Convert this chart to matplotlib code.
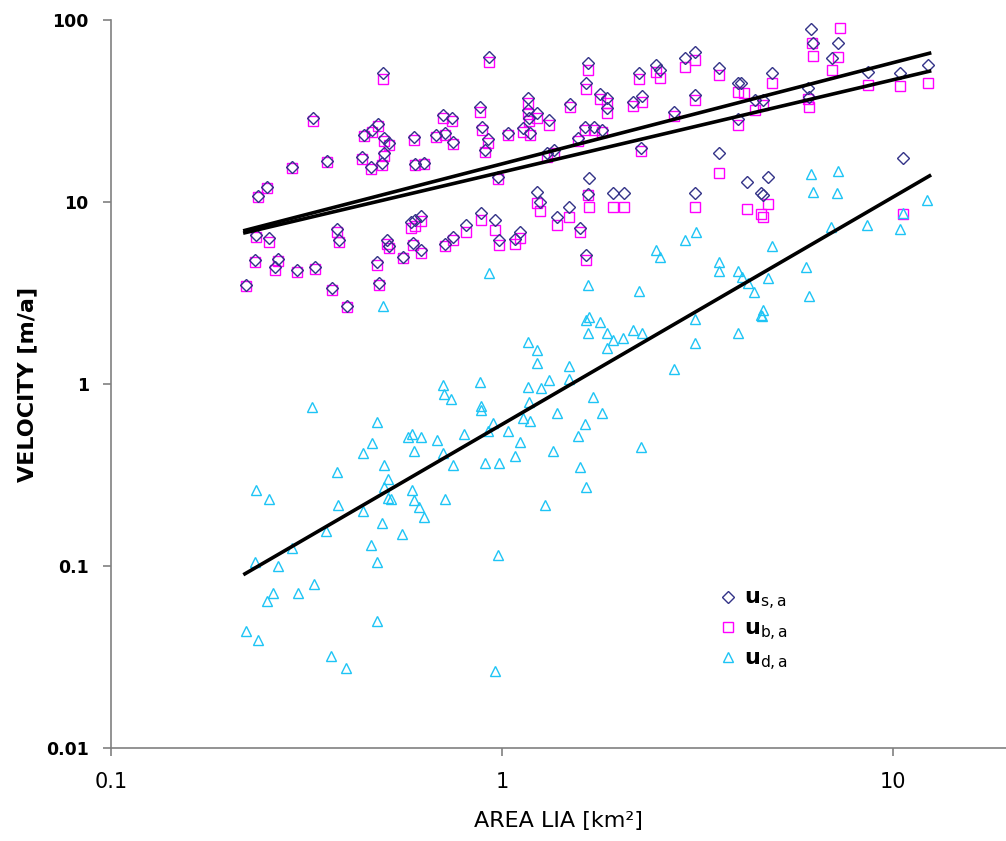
import matplotlib
matplotlib.use("Agg")
import matplotlib.pyplot as plt
from matplotlib.ticker import FixedLocator, NullLocator
import numpy as np

# surface velocity u_s,a  (area in km2, velocity in m/a)
us_area = [0.496, 0.329, 0.290, 0.356, 0.251, 0.238, 0.235, 0.254, 0.234, 0.267,
           0.262, 0.222, 0.299, 0.333, 0.367, 0.401, 0.379, 0.383, 0.484, 0.479,
           0.508, 0.515, 0.559, 0.592, 0.621, 0.586, 0.600, 0.621, 0.714, 0.750,
           0.444, 0.465, 0.481, 0.499, 0.513, 0.500, 0.438, 0.463, 0.493, 0.596,
           0.599, 0.632, 0.678, 0.714, 0.750, 0.706, 0.745,
           0.927, 0.880, 0.890, 0.920, 0.905, 0.977, 1.036, 1.13, 1.166, 1.166,
           1.17, 1.18, 1.229, 1.318, 1.493, 1.564, 1.63, 1.72, 1.80, 1.66,
           1.64, 1.78, 1.856, 1.86, 2.16, 2.28, 2.24, 2.48, 2.54, 2.27,
           2.75, 2.94, 3.12, 3.12, 1.30, 1.36, 0.809, 0.884, 0.959, 0.98,
           1.08, 1.11, 1.229, 1.25, 1.383, 1.484, 1.58, 1.64, 1.67, 1.66,
           1.92, 2.05, 3.12,
           6.17, 6.25, 7.25, 6.98, 3.59, 4.01, 4.08, 4.44, 4.65, 4.01,
           4.9, 6.06, 6.1, 8.63, 10.4, 12.3, 3.59, 4.23, 4.79, 4.6,
           4.65, 10.6]
us_vel = [51.2, 28.9, 15.6, 16.8, 12.1, 10.8, 6.6, 6.34, 4.8, 4.85,
          4.4, 3.5, 4.23, 4.4, 3.37, 2.68, 7.1, 6.19, 3.59, 4.68,
          6.2, 5.75, 4.99, 5.98, 5.45, 7.76, 8.0, 8.38, 5.9, 6.4,
          23.3, 24.9, 26.8, 22.5, 21.1, 18.6, 17.6, 15.6, 16.4, 22.7,
          16.2, 16.4, 23.3, 23.9, 21.4, 30.1, 28.9,
          62.6, 33.3, 25.8, 22.2, 19.3, 13.7, 23.9, 25.5, 37.3, 32.0,
          28.9, 23.9, 30.8, 28.2, 34.5, 22.5, 25.8, 25.8, 24.9, 58.0,
          45.1, 39.2, 37.3, 32.9, 35.4, 38.2, 51.2, 56.6, 53.1, 19.8,
          31.2, 61.7, 66.7, 38.7, 18.6, 19.3, 7.47, 8.7, 8.0, 6.19,
          6.27, 6.84, 11.4, 10.0, 8.28, 9.39, 7.2, 5.12, 13.5, 11.1,
          11.2, 11.2, 11.2,
          89.2, 74.8, 74.8, 61.7, 54.5, 45.1, 45.1, 36.3, 36.3, 28.6,
          51.2, 42.3, 37.7, 51.8, 51.2, 56.6, 18.6, 12.9, 13.7, 11.2,
          10.9, 17.5]

# basal velocity u_b,a
ub_area = [0.496, 0.329, 0.290, 0.356, 0.251, 0.238, 0.235, 0.254, 0.234, 0.267,
           0.262, 0.222, 0.299, 0.333, 0.367, 0.401, 0.379, 0.383, 0.484, 0.479,
           0.508, 0.515, 0.559, 0.592, 0.621, 0.586, 0.600, 0.621, 0.714, 0.750,
           0.444, 0.465, 0.481, 0.499, 0.513, 0.500, 0.438, 0.463, 0.493, 0.596,
           0.599, 0.632, 0.678, 0.714, 0.750, 0.706, 0.745,
           0.927, 0.880, 0.890, 0.920, 0.905, 0.977, 1.036, 1.13, 1.166, 1.166,
           1.17, 1.18, 1.229, 1.318, 1.493, 1.564, 1.63, 1.72, 1.80, 1.66,
           1.64, 1.78, 1.856, 1.86, 2.16, 2.28, 2.24, 2.48, 2.54, 2.27,
           2.75, 2.94, 3.12, 3.12, 1.30, 1.36, 0.809, 0.884, 0.959, 0.98,
           1.08, 1.11, 1.229, 1.25, 1.383, 1.484, 1.58, 1.64, 1.67, 1.66,
           1.92, 2.05, 3.12,
           6.2, 6.25, 7.3, 7.25, 6.98, 3.59, 4.01, 4.15, 4.44, 4.65, 4.01,
           4.9, 6.06, 6.1, 8.63, 10.4, 12.3, 3.59, 4.23, 4.79, 4.6,
           4.65, 10.6]
ub_vel = [47.4, 27.9, 15.3, 16.5, 11.9, 10.6, 6.45, 6.0, 4.7, 4.75,
          4.23, 3.45, 4.15, 4.3, 3.3, 2.65, 6.8, 6.0, 3.5, 4.5,
          5.9, 5.6, 4.9, 5.8, 5.25, 7.2, 7.4, 7.9, 5.7, 6.2,
          23.0, 24.3, 26.0, 21.6, 20.5, 18.0, 17.3, 15.2, 16.0, 22.0,
          15.9, 16.1, 22.8, 23.3, 20.8, 29.0, 28.0,
          58.8, 31.2, 25.0, 21.0, 18.8, 13.3, 23.3, 24.3, 35.0, 30.4,
          27.7, 23.3, 29.0, 26.5, 33.3, 21.6, 25.0, 25.0, 24.3, 53.1,
          41.8, 36.8, 35.0, 30.8, 33.7, 35.4, 47.4, 51.8, 48.0, 19.0,
          29.8, 55.2, 60.2, 36.3, 17.6, 18.6, 6.84, 7.96, 7.02, 5.8,
          5.9, 6.34, 9.87, 8.9, 7.47, 8.28, 6.8, 4.8, 9.4, 10.9,
          9.4, 9.4, 9.4,
          74.8, 63.4, 90.4, 62.6, 53.1, 49.9, 40.2, 39.6, 32.0, 34.1, 26.5,
          45.1, 36.8, 33.3, 44.0, 43.4, 45.1, 14.4, 9.15, 9.75, 8.6,
          8.28, 8.6]

# deformation velocity u_d,a
ud_area = [0.496, 0.706, 0.71, 0.74, 0.327, 0.48, 0.465, 0.44, 0.59, 0.575,
           0.62, 0.68, 0.595, 0.706, 0.75, 0.379, 0.5, 0.51, 0.5, 0.51,
           0.52, 0.59, 0.595, 0.615, 0.63, 0.714, 0.235, 0.254, 0.38, 0.44,
           0.493, 0.354, 0.555, 0.463, 0.48, 0.29, 0.234, 0.267, 0.33, 0.26,
           0.25, 0.3, 0.48, 0.222, 0.238, 0.365, 0.4,
           1.67, 1.64, 1.78, 1.66, 1.86, 1.92, 1.86, 2.04, 2.16, 2.28,
           3.12, 3.12, 2.75, 1.166, 1.229, 1.229, 1.48, 1.48, 1.32, 1.26,
           1.166, 0.88, 0.884, 0.884, 1.17, 1.71, 1.8, 1.38, 1.13, 1.18,
           0.95, 0.92, 0.8, 1.036, 1.63, 1.56, 1.11, 1.35, 2.27, 0.905,
           0.98, 1.08, 1.58, 1.64, 1.29, 0.977, 0.96,
           0.927, 1.66, 2.24, 2.94, 3.14, 2.47, 2.54, 6.17, 7.23, 6.25,
           7.2, 12.2, 10.6, 8.6, 10.4, 6.95, 4.9, 6.0, 6.08, 3.59,
           3.59, 4.01, 4.12, 4.25, 4.79, 4.4, 4.65, 4.6, 4.63, 4.01]
ud_vel = [2.68, 0.987, 0.88, 0.83, 0.75, 0.62, 0.475, 0.42, 0.53, 0.51,
          0.51, 0.49, 0.43, 0.42, 0.36, 0.33, 0.36, 0.30, 0.27, 0.235,
          0.232, 0.26, 0.23, 0.21, 0.185, 0.232, 0.262, 0.232, 0.215, 0.2,
          0.172, 0.155, 0.15, 0.13, 0.105, 0.125, 0.105, 0.1, 0.08, 0.0715,
          0.064, 0.0715, 0.05, 0.044, 0.039, 0.032, 0.0275,
          2.33, 2.25, 2.2, 1.91, 1.91, 1.75, 1.58, 1.79, 1.98, 1.91,
          2.28, 1.68, 1.21, 1.71, 1.54, 1.30, 1.25, 1.07, 1.05, 0.95,
          0.963, 1.03, 0.76, 0.72, 0.80, 0.85, 0.69, 0.69, 0.65, 0.63,
          0.61, 0.55, 0.53, 0.55, 0.60, 0.52, 0.48, 0.43, 0.45, 0.37,
          0.37, 0.40, 0.35, 0.27, 0.215, 0.115, 0.0265,
          4.07, 3.5, 3.25, 6.19, 6.84, 5.45, 4.99, 14.3, 14.8, 11.4,
          11.2, 10.3, 8.7, 7.47, 7.1, 7.3, 5.7, 4.4, 3.04, 4.68,
          4.2, 4.2, 3.85, 3.6, 3.82, 3.2, 2.55, 2.4, 2.35, 1.91]

# power-law fits  u = a * A^b
fit_names = ["us", "ub", "ud"]
fit_a = [16.2, 14.6, 0.60]
fit_b = [0.556, 0.507, 1.249]
fit_range = (0.22, 12.4)

narrow = ['Liberation Sans Narrow', 'DejaVu Sans']
plt.rcParams['font.family'] = ['DejaVu Sans']

fig = plt.figure(figsize=(10.06, 8.41), dpi=100)
ax = fig.add_axes([111/1006, 93/841, 895/1006, 728/841])

ax.set_xscale('log')
ax.set_yscale('log')
ax.set_xlim(0.1, 19.45)
ax.set_ylim(0.01, 100)

mw = 1.0
ax.plot(ub_area, ub_vel, 's', ms=7.8, mfc='none', mec='#ff00ff', mew=mw,
        label=r'$\mathbf{u}_{\mathregular{b,a}}$', zorder=3)
ax.plot(us_area, us_vel, 'D', ms=5.8, mfc='none', mec='#333388', mew=mw,
        label=r'$\mathbf{u}_{\mathregular{s,a}}$', zorder=4)
ax.plot(ud_area, ud_vel, '^', ms=7.5, mfc='none', mec='#1ec4f5', mew=mw,
        label=r'$\mathbf{u}_{\mathregular{d,a}}$', zorder=4)

xf = np.geomspace(fit_range[0], fit_range[1], 50)
for a, b in zip(fit_a, fit_b):
    ax.plot(xf, a * xf ** b, color='black', lw=2.6, zorder=5)

for s in ['top', 'right']:
    ax.spines[s].set_visible(False)
for s in ['left', 'bottom']:
    ax.spines[s].set_color('#808080')
    ax.spines[s].set_linewidth(1.2)

ax.xaxis.set_major_locator(FixedLocator([0.1, 1, 10]))
ax.xaxis.set_minor_locator(NullLocator())
ax.set_xticklabels(['0.1', '1', '10'], fontdict={'family': narrow, 'size': 15})
ax.yaxis.set_major_locator(FixedLocator([0.01, 0.1, 1, 10, 100]))
ax.yaxis.set_minor_locator(NullLocator())
ax.set_yticklabels(['0.01', '0.1', '1', '10', '100'],
                   fontdict={'size': 12.5, 'weight': 'bold'})
ax.tick_params(axis='both', direction='out', length=6, width=1.2, color='#808080')
ax.tick_params(axis='x', pad=11)
ax.tick_params(axis='y', pad=10)

ax.set_xlabel('AREA LIA [km\u00b2]', fontsize=16, family=narrow, labelpad=14)
ax.set_ylabel('VELOCITY [m/a]', fontsize=16, fontweight='bold', family=narrow,
              labelpad=6)

h, l = ax.get_legend_handles_labels()
order = [1, 0, 2]
ax.legend([h[i] for i in order], [l[i] for i in order], loc='center left',
          bbox_to_anchor=(0.68, 0.161), frameon=False, fontsize=16,
          handlelength=0.8, handletextpad=0.3, labelspacing=0.3,
          borderpad=0, borderaxespad=0)

fig.savefig('out.png', dpi=100)
